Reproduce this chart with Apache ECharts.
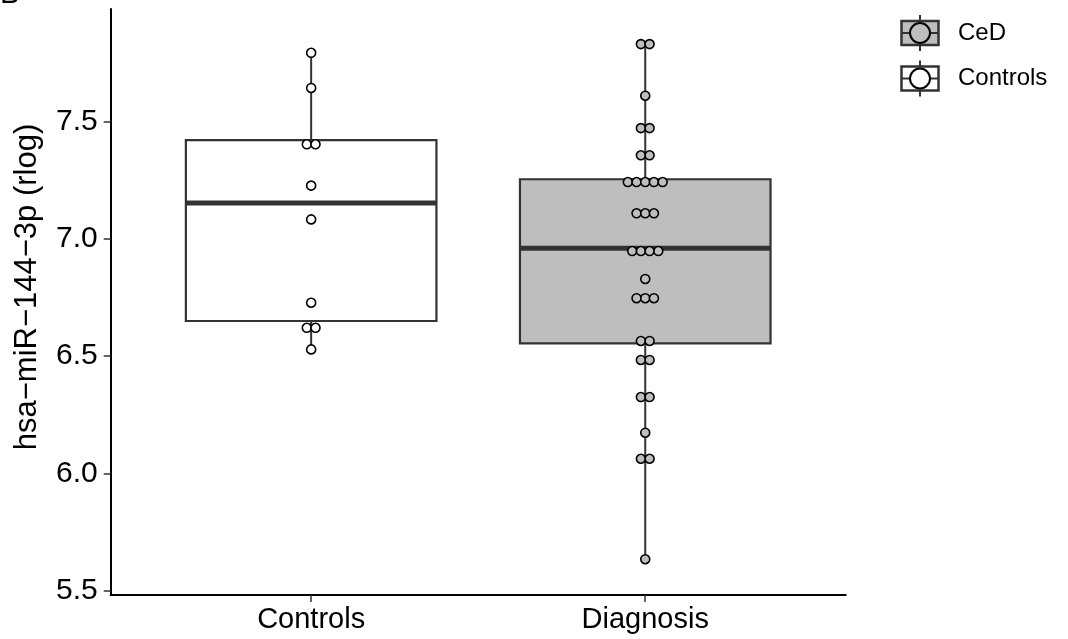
<!DOCTYPE html>
<html>
<head>
<meta charset="utf-8">
<script src="https://cdn.jsdelivr.net/npm/echarts@6/dist/echarts.min.js"></script>
<style>
html,body{margin:0;padding:0;background:#fff;}
#chart{width:1068px;height:639px;}
</style>
</head>
<body>
<div id="chart"></div>
<script>
// ---- data ----
const categories = ['Controls', 'Diagnosis'];
const legendLabels = ['CeD', 'Controls'];
const yTicks = [5.5, 6.0, 6.5, 7.0, 7.5];
// box stats: [min, Q1, median, Q3, max]
const controlsBox = [6.528, 6.649, 7.152, 7.420, 7.792];
const cedBox = [5.634, 6.554, 6.959, 7.253, 7.829];
// dot values (binned, as drawn)
const controlsValues = [7.792, 7.642, 7.402, 7.402, 7.226, 7.082, 6.727, 6.620, 6.620, 6.528];
const cedValues = [7.829, 7.829, 7.609, 7.471, 7.471, 7.355, 7.355,
  7.241, 7.241, 7.241, 7.241, 7.241, 7.108, 7.108, 7.108,
  6.947, 6.947, 6.947, 6.947, 6.828, 6.746, 6.746, 6.746,
  6.564, 6.564, 6.483, 6.483, 6.325, 6.325, 6.173, 6.062, 6.062, 5.634];

// ---- styles ----
const CED_FILL = '#bebebe';
const CTRL_FILL = '#ffffff';
const LINE = '#333333';
const DOT_PITCH = 8.7;

function dots(values, xPos, fill) {
  const groups = {};
  values.forEach(v => { const k = v.toFixed(3); (groups[k] = groups[k] || []).push(v); });
  const out = [];
  Object.keys(groups).forEach(k => {
    const g = groups[k];
    const n = g.length;
    g.forEach((v, i) => {
      out.push({
        value: [xPos, v],
        symbolOffset: [(i - (n - 1) / 2) * DOT_PITCH, 0],
        itemStyle: { color: fill }
      });
    });
  });
  return out;
}

const boxData = [
  [1].concat(controlsBox).concat([0]),
  [2].concat(cedBox).concat([1])
];
const boxFills = [CTRL_FILL, CED_FILL];

const chart = echarts.init(document.getElementById('chart'));
const FONT = 'Liberation Sans';

function legendKey(cy, fill) {
  const cx = 920;
  return [
    { type: 'line', shape: { x1: cx, y1: cy - 18, x2: cx, y2: cy + 18 }, style: { stroke: LINE, lineWidth: 2 }, z: 1 },
    { type: 'rect', shape: { x: cx - 18.5, y: cy - 12, width: 37, height: 24 }, style: { fill: fill, stroke: LINE, lineWidth: 2.5 }, z: 2 },
    { type: 'line', shape: { x1: cx - 18.5, y1: cy, x2: cx + 18.5, y2: cy }, style: { stroke: LINE, lineWidth: 2 }, z: 3 },
    { type: 'circle', shape: { cx: cx, cy: cy, r: 10 }, style: { fill: fill, stroke: '#000', lineWidth: 2 }, z: 4 }
  ];
}

const option = {
  animation: false,
  backgroundColor: '#ffffff',
  textStyle: { fontFamily: FONT },
  grid: { left: 110.7, right: 222.3, top: 9, bottom: 44, containLabel: false },
  xAxis: {
    type: 'value', min: 0.4, max: 2.6,
    axisLine: { show: true, lineStyle: { color: '#000', width: 2 } },
    axisTick: { show: true, customValues: [1, 2], length: 7, lineStyle: { color: '#333', width: 1.5 } },
    axisLabel: { customValues: [1, 2], formatter: v => categories[Math.round(v) - 1], color: '#000', fontSize: 29, margin: 10, fontFamily: FONT },
    splitLine: { show: false }
  },
  yAxis: {
    type: 'value', min: 5.4814, max: 7.9785,
    name: 'hsa\u2212miR\u2212144\u22123p (rlog)', nameLocation: 'middle', nameGap: 68,
    nameTextStyle: { fontSize: 31, color: '#000', fontFamily: FONT, padding: [0, 0, 0, 30] },
    axisLine: { show: true, lineStyle: { color: '#000', width: 2 } },
    axisTick: { show: true, customValues: yTicks, length: 7, lineStyle: { color: '#333', width: 1.5 } },
    axisLabel: { customValues: yTicks, formatter: v => v.toFixed(1), color: '#000', fontSize: 30, margin: 13, fontFamily: FONT },
    splitLine: { show: false }
  },
  series: [
    {
      type: 'custom',
      data: boxData,
      z: 2,
      renderItem: function (params, api) {
        const x = api.value(0);
        const mn = api.value(1), q1 = api.value(2), md = api.value(3), q3 = api.value(4), mx = api.value(5);
        const fill = boxFills[api.value(6)];
        const half = api.size([0.75, 0])[0] / 2;
        const pMin = api.coord([x, mn]), pQ1 = api.coord([x, q1]), pMd = api.coord([x, md]), pQ3 = api.coord([x, q3]), pMax = api.coord([x, mx]);
        return {
          type: 'group',
          children: [
            { type: 'line', shape: { x1: pQ3[0], y1: pQ3[1], x2: pMax[0], y2: pMax[1] }, style: { stroke: LINE, lineWidth: 2 } },
            { type: 'line', shape: { x1: pQ1[0], y1: pQ1[1], x2: pMin[0], y2: pMin[1] }, style: { stroke: LINE, lineWidth: 2 } },
            { type: 'rect', shape: { x: pQ3[0] - half, y: pQ3[1], width: half * 2, height: pQ1[1] - pQ3[1] }, style: { fill: fill, stroke: LINE, lineWidth: 2.2 } },
            { type: 'line', shape: { x1: pMd[0] - half, y1: pMd[1], x2: pMd[0] + half, y2: pMd[1] }, style: { stroke: LINE, lineWidth: 5 } }
          ]
        };
      }
    },
    {
      type: 'scatter',
      z: 5,
      symbol: 'circle', symbolSize: 9,
      itemStyle: { borderColor: '#000', borderWidth: 1.6, opacity: 1 },
      data: dots(controlsValues, 1, CTRL_FILL).concat(dots(cedValues, 2, CED_FILL))
    }
  ],
  graphic: [
    { type: 'text', left: 0, top: -20, style: { text: 'B', fontSize: 30, fontFamily: FONT, fill: '#000' } },
    ...legendKey(33, CED_FILL),
    ...legendKey(78.5, CTRL_FILL),
    { type: 'text', x: 958, y: 33, style: { text: legendLabels[0], fontSize: 24, fontFamily: FONT, fill: '#000', textVerticalAlign: 'middle', verticalAlign: 'middle' } },
    { type: 'text', x: 958, y: 78.5, style: { text: legendLabels[1], fontSize: 24, fontFamily: FONT, fill: '#000', textVerticalAlign: 'middle', verticalAlign: 'middle' } }
  ]
};
chart.setOption(option);
</script>
</body>
</html>
